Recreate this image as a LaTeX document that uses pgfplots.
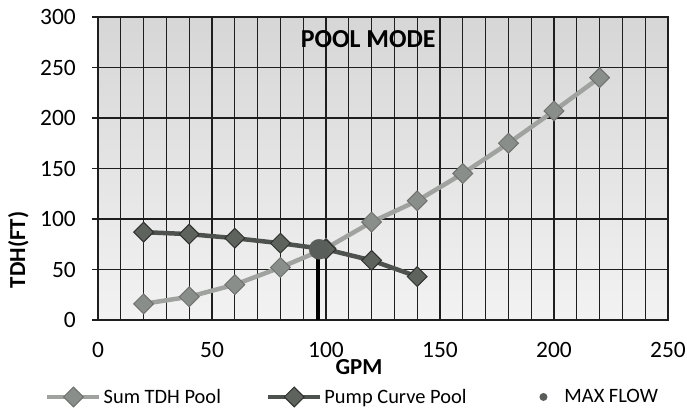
\documentclass[border=0pt]{standalone}
\usepackage{pgfplots}
\pgfplotsset{compat=1.18}
\usepackage{fontspec}
\setmainfont{Carlito}
\definecolor{sumline}{HTML}{A0A2A0}
\definecolor{summark}{HTML}{8A8E8A}
\definecolor{sumedge}{HTML}{6E716E}
\definecolor{pumpline}{HTML}{4E524E}
\definecolor{pumpmark}{HTML}{5E635E}
\definecolor{pumpedge}{HTML}{2E302E}
\definecolor{maxmark}{HTML}{5A5E5A}
\definecolor{gridc}{HTML}{1E1E1E}
\begin{document}
\begin{tikzpicture}
\useasboundingbox (-98bp,-92bp) rectangle (589bp,320bp);
\begin{axis}[
  at={(0,0)}, anchor=south west,
  scale only axis, width=570bp, height=303bp,
  xmin=0, xmax=250, ymin=0, ymax=300,
  xtick={0,50,...,250}, minor x tick num=4,
  ytick={0,50,...,300},
  grid=both,
  major grid style={draw=gridc, line width=1.1bp},
  minor grid style={draw=gridc, line width=1.1bp},
  axis line style={draw=gridc, line width=1.1bp},
  axis background/.style={top color=black!16, bottom color=black!5},
  xtick style={draw=none}, minor tick style={draw=none},
  ytick style={draw=gridc, line width=1.1bp},
  major tick length=6bp,
  ytick align=outside, ytick pos=left,
  /pgf/number format/assume math mode=true,
  ticklabel style={font=\fontsize{23.5}{26}\selectfont},
  yticklabel style={inner sep=0pt, anchor=east, xshift=-16bp},
  xticklabel style={inner sep=0pt, anchor=north, yshift=-22bp},
  title={\textbf{POOL MODE}},
  title style={font=\fontsize{26}{28}\selectfont, at={(0.474,0.881)}, anchor=base},
  xlabel={\textbf{GPM}},
  xlabel style={font=\fontsize{23}{26}\selectfont, at={(axis description cs:0.458,-0.1815)}, anchor=base},
  ylabel={\textbf{TDH(FT)}},
  ylabel style={font=\fontsize{23}{26}\selectfont, at={(axis description cs:-0.128,0.231)}, anchor=base, rotate=0},
  legend columns=3,
  legend style={draw=none, fill=none, font=\fontsize{20.5}{22}\selectfont,
    at={(axis description cs:-0.093,-0.254)}, anchor=west,
    /tikz/every even column/.append style={column sep=43bp},
    inner sep=0pt},
  legend cell align=left,
  legend image code/.code={\draw[mark repeat=2,mark phase=2,#1] plot coordinates {(0bp,0bp) (26bp,0bp) (52bp,0bp)};},
]
\addplot[sumline, line width=4.5bp, mark=square*, mark size=7bp,
  mark options={rotate=45, fill=summark, draw=sumedge, line width=1bp}]
  coordinates {(20,16) (40,23) (60,35) (80,52) (100,71) (120,97) (140,118) (160,145) (180,175) (200,207) (220,240)};
\addlegendentry{Sum TDH Pool}
\addplot[pumpline, line width=4.5bp, mark=square*, mark size=7bp,
  mark options={rotate=45, fill=pumpmark, draw=pumpedge, line width=1bp}]
  coordinates {(20,87) (40,85) (60,81) (80,76) (100,70) (120,59) (140,43)};
\addlegendentry{Pump Curve Pool}
\addplot[black, line width=3.5bp, forget plot] coordinates {(96.5,0) (96.5,68)};
\addplot[only marks, mark=*, mark size=10bp, mark options={fill=maxmark, draw=maxmark}, forget plot]
  coordinates {(97,70)};
\addlegendimage{legend image code/.code={\path[draw=none,fill=none] (0bp,0bp) -- (51bp,0bp); \fill[maxmark,draw=none] (32bp,0bp) circle (4bp);}}
\addlegendentry{MAX FLOW}
\end{axis}
\end{tikzpicture}
\end{document}
